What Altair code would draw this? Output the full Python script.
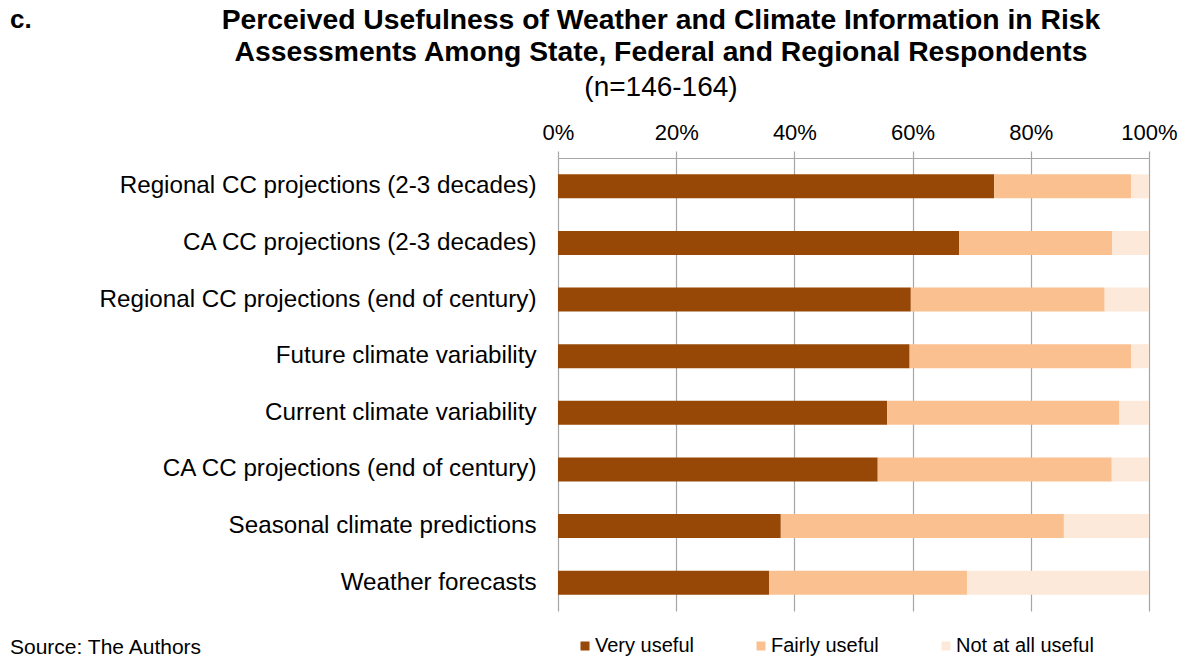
import altair as alt
import pandas as pd

categories = [
    "Regional CC projections (2-3 decades)",
    "CA CC projections (2-3 decades)",
    "Regional CC projections (end of century)",
    "Future climate variability",
    "Current climate variability",
    "CA CC projections (end of century)",
    "Seasonal climate predictions",
    "Weather forecasts",
]
very_useful = [73.8, 67.9, 59.7, 59.5, 55.7, 54.1, 37.7, 35.7]
fairly_useful = [23.2, 25.9, 32.8, 37.5, 39.3, 39.6, 47.9, 33.5]
not_at_all_useful = [3.0, 6.2, 7.5, 3.0, 5.0, 6.3, 14.4, 30.8]
series = ["Very useful", "Fairly useful", "Not at all useful"]
colors = ["#974706", "#FAC090", "#FDE9D9"]
tick_values = [0, 0.2, 0.4, 0.6, 0.8, 1.0]

FONT = "Liberation Sans"

rows = []
for i, c in enumerate(categories):
    for j, vals in enumerate([very_useful, fairly_useful, not_at_all_useful]):
        rows.append({"category": c, "series": series[j], "value": vals[i] / 100.0, "order": j})
df = pd.DataFrame(rows)

bars = alt.Chart(df).mark_bar(strokeWidth=0).encode(
    y=alt.Y(
        "category:N",
        sort=categories,
        scale=alt.Scale(paddingInner=0.576, paddingOuter=0.288),
        axis=alt.Axis(
            title=None, domain=False, ticks=False, labelPadding=22,
            labelFontSize=24.2, labelColor="#000000", labelFont=FONT, labelLimit=700,
        ),
    ),
    x=alt.X(
        "value:Q",
        stack="zero",
        scale=alt.Scale(domain=[0, 1], nice=False),
        axis=alt.Axis(
            orient="top", format=".0%", values=tick_values, title=None,
            grid=True, gridColor="#A6A6A6", gridWidth=1.2,
            domainColor="#A6A6A6", domainWidth=1.2,
            tickColor="#A6A6A6", tickSize=7, tickWidth=1.2,
            labelPadding=7, labelFontSize=22, labelColor="#000000", labelFont=FONT,
            labelFlush=False, labelOverlap=False,
        ),
    ),
    color=alt.Color(
        "series:N",
        sort=series,
        scale=alt.Scale(domain=series, range=colors),
        legend=alt.Legend(
            orient="none", legendX=17, legendY=478, direction="horizontal",
            title=None, symbolType="square", symbolSize=81, symbolStrokeWidth=0,
            labelFontSize=20, labelFont=FONT, labelColor="#000000",
            columnPadding=57, labelOffset=0,
        ),
    ),
    order=alt.Order("order:Q"),
)

one = pd.DataFrame({"k": [0]})

def txt(text, x, y, size, weight="normal", align="left"):
    return alt.Chart(one).mark_text(
        text=text, font=FONT, fontSize=size, fontWeight=weight,
        align=align, baseline="alphabetic", color="#000000",
    ).encode(x=alt.value(x), y=alt.value(y))

label_c = txt("c.", -548, -130, 26, "bold")
title1 = txt("Perceived Usefulness of Weather and Climate Information in Risk", 103, -129, 28.3, "bold", "center")
title2 = txt("Assessments Among State, Federal and Regional Respondents", 103, -97, 28.3, "bold", "center")
subtitle = txt("(n=146-164)", 103, -62, 28, "normal", "center")
source = txt("Source: The Authors", -548, 496, 21)

chart = alt.layer(bars, label_c, title1, title2, subtitle, source).properties(
    width=591,
    height=453,
    autosize=alt.AutoSizeParams(type="none"),
    padding={"left": 550, "top": 150, "right": 29, "bottom": 49},
).configure_view(stroke=None)

chart.save("out.html", embed_options={"renderer": "svg", "actions": False})
